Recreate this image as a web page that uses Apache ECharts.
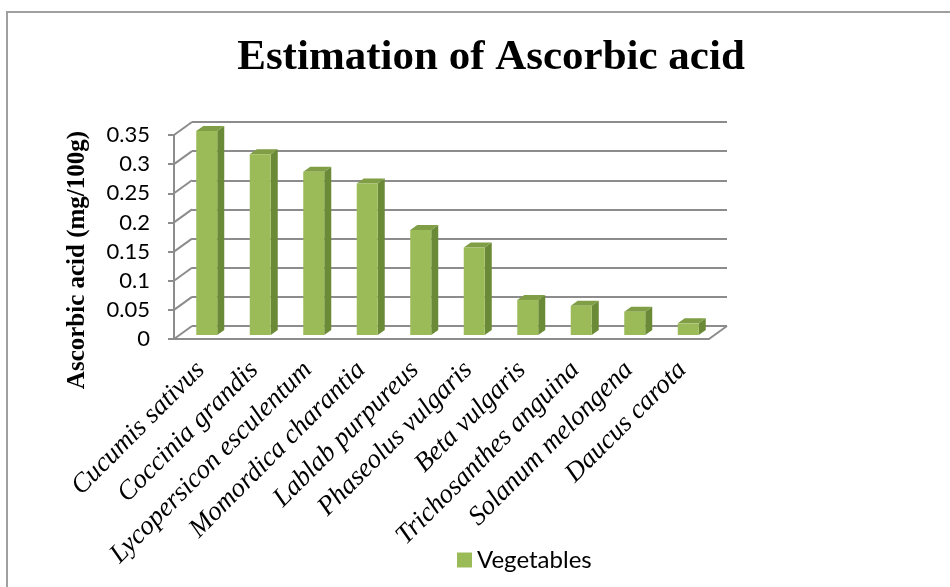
<!DOCTYPE html>
<html>
<head>
<meta charset="utf-8">
<script src="https://cdn.jsdelivr.net/npm/echarts@6/dist/echarts.min.js"></script>
<style>
  html, body { margin: 0; padding: 0; background: #fff; }
  #chart { width: 950px; height: 587px; }
</style>
</head>
<body>
<div id="chart"></div>
<script>
// data
const categories = [
  "Cucumis sativus", "Coccinia grandis", "Lycopersicon esculentum", "Momordica charantia",
  "Lablab purpureus", "Phaseolus vulgaris", "Beta vulgaris", "Trichosanthes anguina",
  "Solanum melongena", "Daucus carota"
];
const vegetables = [0.35, 0.31, 0.28, 0.26, 0.18, 0.15, 0.06, 0.05, 0.04, 0.02];
const yTicks = [0, 0.05, 0.1, 0.15, 0.2, 0.25, 0.3, 0.35];

const chart = echarts.init(document.getElementById("chart"));

// depth of the box (back wall vs front plane) and bar placement
const DEPTH = [18, -13];
const BAR_SHIFT = [6, -4];
const BAR_DEPTH = [7, -5];
const BAR_W = 21;

const gridColor = "#8c8c8c";

const renderBar = (params, api) => {
  const i = api.value(0);
  const v = api.value(1);
  const base = api.coord([i, 0]);
  const top = api.coord([i, v]);
  const x0 = base[0] - BAR_W / 2 + BAR_SHIFT[0];
  const x1 = x0 + BAR_W;
  const yb = base[1] + BAR_SHIFT[1];
  const yt = top[1] + BAR_SHIFT[1];
  const dx = BAR_DEPTH[0], dy = BAR_DEPTH[1];
  return {
    type: "group",
    children: [
      { type: "polygon", shape: { points: [[x1, yb], [x1 + dx, yb + dy], [x1 + dx, yt + dy], [x1, yt]] },
        style: { fill: "#6b8a37" } },
      { type: "polygon", shape: { points: [[x0, yt], [x1, yt], [x1 + dx, yt + dy], [x0 + dx, yt + dy]] },
        style: { fill: "#7f9e45" } },
      { type: "rect", shape: { x: x0, y: yt, width: BAR_W, height: yb - yt },
        style: { fill: "#9bbb59" } }
    ]
  };
};

// left wall diagonals from each front tick to the back wall
const renderWall = (params, api) => {
  const cs = params.coordSys;
  const y = api.coord([0, api.value(0)])[1];
  const x = cs.x;
  return {
    type: "line",
    shape: { x1: x, y1: y, x2: x + DEPTH[0], y2: y + DEPTH[1] },
    style: { stroke: gridColor, lineWidth: 2 }
  };
};

// right edge of the floor
const renderFloorEdge = (params, api) => {
  const cs = params.coordSys;
  const y = api.coord([0, 0])[1];
  const x = cs.x + cs.width;
  return {
    type: "line",
    shape: { x1: x, y1: y, x2: x + DEPTH[0], y2: y + DEPTH[1] },
    style: { stroke: gridColor, lineWidth: 2 }
  };
};

const option = {
  animation: false,
  backgroundColor: "#fff",
  title: {
    text: "Estimation of Ascorbic acid",
    left: 486,
    top: 31,
    textAlign: "center",
    textStyle: {
      fontFamily: "Liberation Serif",
      fontWeight: "bold",
      fontSize: 43,
      color: "#000"
    }
  },
  legend: {
    left: 452,
    top: 543,
    icon: "rect",
    itemWidth: 15,
    itemHeight: 15,
    itemGap: 8,
    textStyle: { fontFamily: "Lato", fontSize: 24, color: "#000" },
    data: ["Vegetables"]
  },
  graphic: [
    {
      type: "rect",
      shape: { x: 7, y: 12, width: 1100, height: 1000 },
      style: { fill: null, stroke: "#a0a0a0", lineWidth: 2 },
      silent: true,
      z: -10
    },
    {
      type: "text",
      x: 78,
      y: 260,
      rotation: Math.PI / 2,
      style: {
        text: "Ascorbic acid (mg/100g)",
        fontFamily: "Liberation Serif",
        fontWeight: "bold",
        fontSize: 25,
        fill: "#000",
        align: "center",
        verticalAlign: "middle"
      }
    }
  ],
  grid: [
    // front plane
    { left: 174, right: 241, top: 135, bottom: 248 },
    // back wall
    { left: 192, right: 223, top: 122, bottom: 261 }
  ],
  xAxis: [
    {
      gridIndex: 0,
      type: "category",
      data: categories,
      axisLine: { show: true, lineStyle: { color: gridColor, width: 2 } },
      axisTick: { show: false },
      axisLabel: {
        interval: 0,
        rotate: 45,
        margin: 27,
        fontFamily: "Liberation Serif",
        fontStyle: "italic",
        fontSize: 27,
        color: "#000"
      }
    },
    {
      gridIndex: 1,
      type: "category",
      data: categories,
      axisLine: { show: false },
      axisTick: { show: false },
      axisLabel: { show: false }
    }
  ],
  yAxis: [
    {
      gridIndex: 0,
      type: "value",
      min: 0,
      max: 0.35,
      interval: 0.05,
      axisLine: { show: true, lineStyle: { color: gridColor, width: 2 } },
      axisTick: { show: true, length: 6, lineStyle: { color: gridColor, width: 2 } },
      splitLine: { show: false },
      axisLabel: {
        margin: 24,
        fontFamily: "Lato",
        fontSize: 22,
        color: "#000",
        formatter: (v) => String(+v.toFixed(2))
      }
    },
    {
      gridIndex: 1,
      type: "value",
      min: 0,
      max: 0.35,
      interval: 0.05,
      axisLine: { show: false },
      axisTick: { show: false },
      axisLabel: { show: false },
      splitLine: { show: true, lineStyle: { color: gridColor, width: 2 } }
    }
  ],
  series: [
    {
      name: "wall",
      type: "custom",
      xAxisIndex: 0,
      yAxisIndex: 0,
      silent: true,
      renderItem: renderWall,
      data: yTicks.map((t) => [t]),
      encode: { y: 0 },
      z: 1
    },
    {
      name: "floor",
      type: "custom",
      xAxisIndex: 0,
      yAxisIndex: 0,
      silent: true,
      renderItem: renderFloorEdge,
      data: [[0]],
      encode: { y: 0 },
      z: 1
    },
    {
      name: "Vegetables",
      type: "custom",
      xAxisIndex: 0,
      yAxisIndex: 0,
      itemStyle: { color: "#9bbb59" },
      renderItem: renderBar,
      data: vegetables.map((v, i) => [i, v]),
      encode: { x: 0, y: 1 },
      z: 5
    }
  ]
};

chart.setOption(option);
</script>
</body>
</html>
